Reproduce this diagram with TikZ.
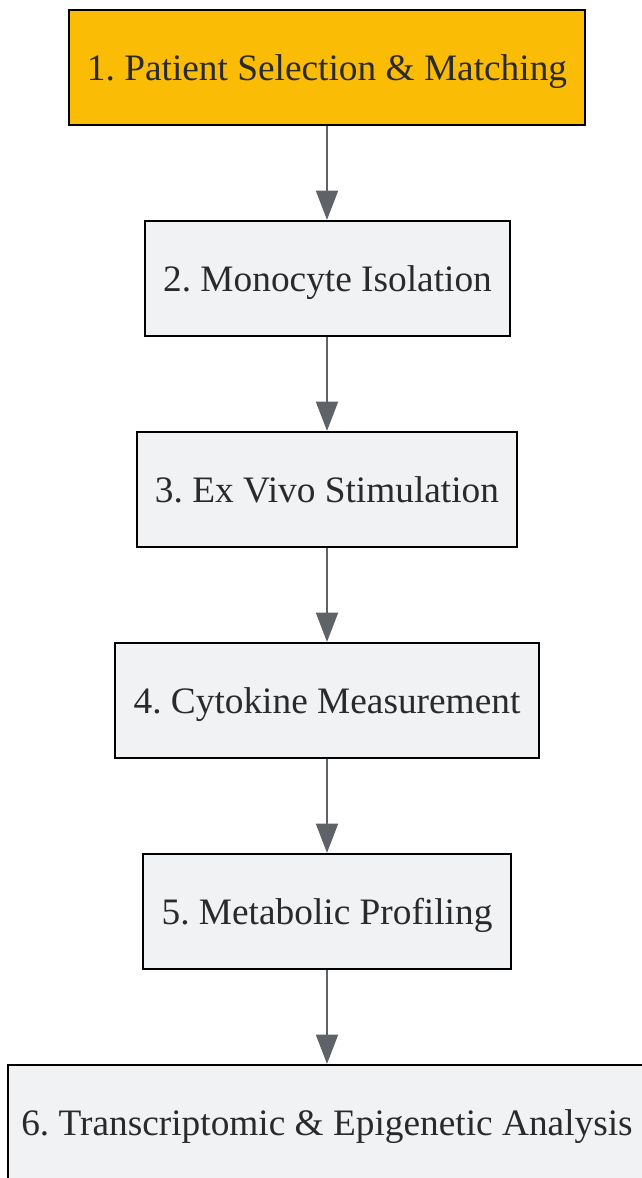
\documentclass[tikz,border=0pt]{standalone}
\usepackage{fontspec}
\setmainfont{Liberation Serif}
\usetikzlibrary{arrows.meta}
\frenchspacing
\definecolor{boxfill}{HTML}{F1F2F4}
\definecolor{orangefill}{HTML}{FBBC05}
\definecolor{arrowgray}{HTML}{5F6368}
\definecolor{txt}{HTML}{2A2A2A}
\tikzset{
  stepbox/.style={draw=black, line width=1.6pt, fill=boxfill, text=txt,
    minimum height=115*0.75pt, inner sep=0pt, text depth=0pt,
    font=\fontsize{28}{33}\selectfont},
  startbox/.style={stepbox, fill=orangefill},
  flow/.style={draw=arrowgray, line width=1.5pt,
    -{Triangle[width=16.5pt,length=22pt]}}
}
\begin{document}
\begin{tikzpicture}[x=0.75pt,y=-0.75pt]
\useasboundingbox (0,0) rectangle (642,1178);
\begin{scope}
\clip (0,0) rectangle (642,1178);
\node[startbox, minimum width=516*0.75pt] (n1) at (327,67.5) {1. Patient Selection \& Matching};
\node[stepbox, minimum width=365*0.75pt] (n2) at (327.5,278.5) {2. Monocyte Isolation};
\node[stepbox, minimum width=380*0.75pt] (n3) at (327,489.5) {3. Ex Vivo Stimulation};
\node[stepbox, minimum width=424*0.75pt] (n4) at (327,700.5) {4. Cytokine Measurement};
\node[stepbox, minimum width=368*0.75pt] (n5) at (327,911.5) {5. Metabolic Profiling};
\node[stepbox, minimum width=638*0.75pt] (n6) at (327,1122.5) {6. Transcriptomic \& Epigenetic Analysis};
\draw[flow] (n1.south -| 327,0) -- (n2.north -| 327,0);
\draw[flow] (n2.south -| 327,0) -- (n3.north -| 327,0);
\draw[flow] (n3.south -| 327,0) -- (n4.north -| 327,0);
\draw[flow] (n4.south -| 327,0) -- (n5.north -| 327,0);
\draw[flow] (n5.south -| 327,0) -- (n6.north -| 327,0);
\end{scope}
\end{tikzpicture}
\end{document}
